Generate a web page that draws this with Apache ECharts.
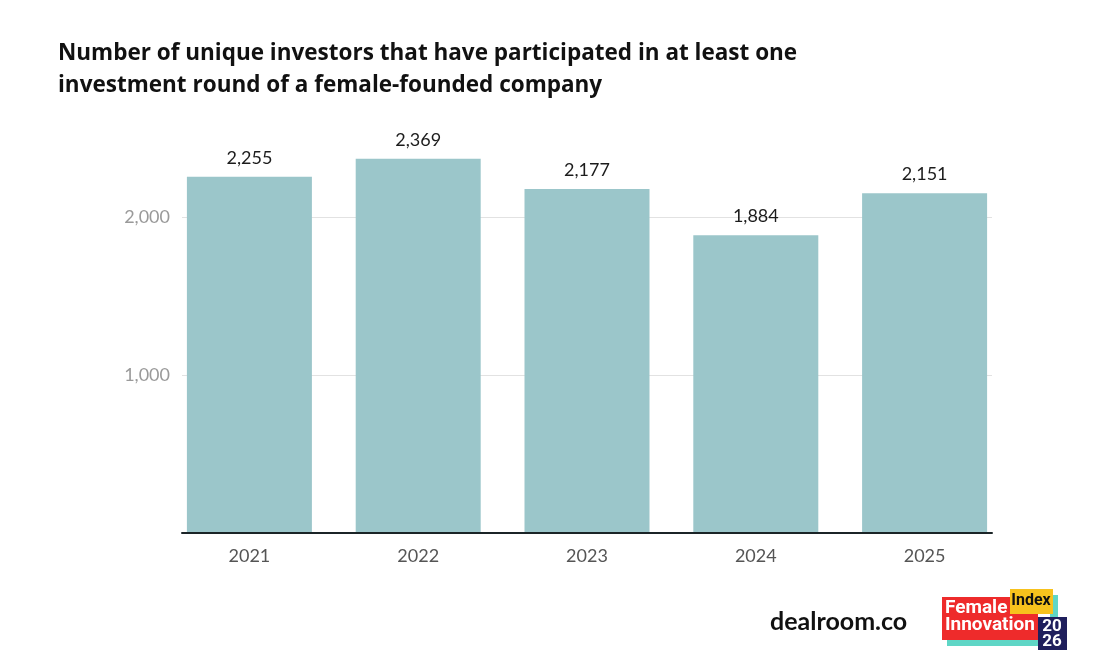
<!DOCTYPE html>
<html>
<head>
<meta charset="utf-8">
<script src="https://cdn.jsdelivr.net/npm/echarts@6/dist/echarts.min.js"></script>
<style>
html,body{margin:0;padding:0;background:#fff;}
#chart{width:1120px;height:672px;}
</style>
</head>
<body>
<div id="chart"></div>
<script>
const categories = ['2021', '2022', '2023', '2024', '2025'];
const investors = [2255, 2369, 2177, 1884, 2151];
const yTicks = [1000, 2000];
const titleText = 'Number of unique investors that have participated in at least one\ninvestment round of a female-founded company';

const fmt = v => Number(v).toLocaleString('en-US');

const chart = echarts.init(document.getElementById('chart'), null, {renderer: 'canvas'});
chart.setOption({
  backgroundColor: '#ffffff',
  animation: false,
  title: {
    text: titleText,
    left: 53,
    top: 33,
    textStyle: {fontFamily: 'Open Sans', fontWeight: 'bold', fontSize: 22.5, lineHeight: 32, color: '#111111'}
  },
  grid: [
    {left: 182, right: 128, top: 138, bottom: 139},
    {left: 165, right: 111, top: 138, bottom: 139}
  ],
  xAxis: [
    {type: 'category', gridIndex: 0, data: categories, z: 10,
     axisLine: {show: true, lineStyle: {color: '#1b2427', width: 2}},
     axisTick: {show: false}, axisLabel: {show: false}},
    {type: 'category', gridIndex: 1, data: categories,
     axisLine: {show: false}, axisTick: {show: false},
     axisLabel: {fontFamily: 'Lato', fontSize: 18, color: '#555555', margin: 14}}
  ],
  yAxis: [
    {type: 'value', gridIndex: 0, min: 0, max: 2500, interval: 1000,
     axisLine: {show: false}, axisTick: {show: false}, splitLine: {show: false},
     axisLabel: {fontFamily: 'Lato', fontSize: 18, color: '#9a9a9a', margin: 12,
       formatter: v => yTicks.includes(v) ? fmt(v) : ''}},
    {type: 'value', gridIndex: 1, min: 0, max: 2500, show: false}
  ],
  series: [
    {type: 'line', xAxisIndex: 0, yAxisIndex: 0, data: [], z: 1, silent: true,
     markLine: {silent: true, z: 1, symbol: 'none', label: {show: false},
       lineStyle: {color: '#e2e2e2', width: 1, type: 'solid'},
       data: yTicks.map(v => ({yAxis: v}))}},
    {type: 'bar', xAxisIndex: 1, yAxisIndex: 1, data: investors, z: 6,
     barWidth: 125,
     itemStyle: {color: '#9bc6ca'},
     label: {show: true, position: 'top', distance: 10, fontFamily: 'Lato', fontSize: 18,
       color: '#1c1c1c', formatter: p => fmt(p.value)}}
  ],
  graphic: [
    {type: 'text', left: 770, top: 609,
     style: {text: 'dealroom.co', font: 'bold 25px Lato', fill: '#111111'}},
    {type: 'group', x: 0, y: 0, children: [
      {type: 'rect', shape: {x: 947, y: 636, width: 92, height: 10}, style: {fill: '#5fd6c6'}},
      {type: 'rect', shape: {x: 1050, y: 595, width: 8, height: 25}, style: {fill: '#5fd6c6'}},
      {type: 'rect', shape: {x: 942, y: 597, width: 96, height: 43}, style: {fill: '#ee2b2b'}},
      {type: 'rect', shape: {x: 1010, y: 589, width: 43, height: 25}, style: {fill: '#f7c21d'}},
      {type: 'rect', shape: {x: 1038, y: 617, width: 29, height: 33}, style: {fill: '#1f1f5c'}},
      {type: 'text', x: 945, y: 608, style: {text: 'Female', font: 'bold 19px Roboto', fill: '#ffffff', verticalAlign: 'middle'}},
      {type: 'text', x: 945, y: 625, style: {text: 'Innovation', font: 'bold 19px Roboto', fill: '#ffffff', verticalAlign: 'middle'}},
      {type: 'text', x: 1031, y: 601, style: {text: 'Index', font: 'bold 16px Roboto', fill: '#111111', align: 'center', verticalAlign: 'middle'}},
      {type: 'text', x: 1052, y: 627, style: {text: '20', font: 'bold 17px Roboto', fill: '#ffffff', align: 'center', verticalAlign: 'middle'}},
      {type: 'text', x: 1052, y: 642, style: {text: '26', font: 'bold 17px Roboto', fill: '#ffffff', align: 'center', verticalAlign: 'middle'}}
    ]}
  ]
});
</script>
</body>
</html>
